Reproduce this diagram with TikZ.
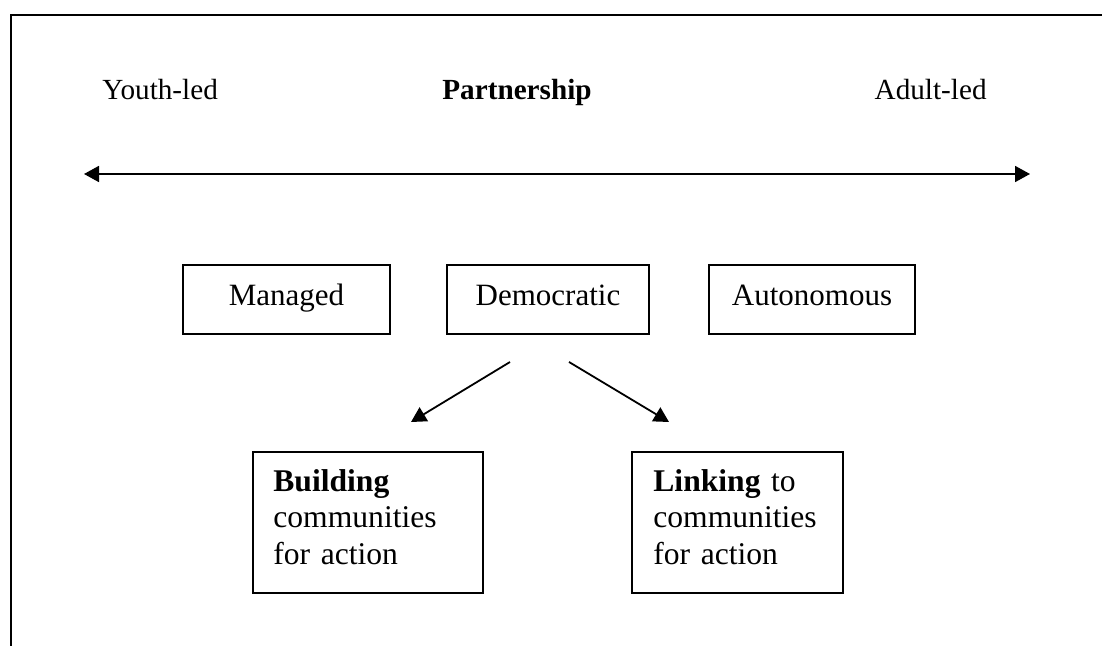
\documentclass[tikz,border=0pt]{standalone}
\usepackage{fontspec}
\setmainfont{Liberation Serif}
\usetikzlibrary{arrows.meta}
\begin{document}
\begin{tikzpicture}[x=0.5pt,y=-0.5pt,
  txt/.style={font=\fontsize{14.6}{18.25}\selectfont, inner sep=0pt},
  stagebox/.style={draw, line width=1pt, rectangle, inner sep=0pt,
    font=\fontsize{15.5}{18.25}\selectfont, text height=10pt, text depth=3.5pt,
    minimum height=34.5pt},
  outcomebox/.style={draw, line width=1pt, rectangle, inner sep=0pt},
  bodytext/.style={font=\fontsize{15.8}{18.25}\selectfont, inner sep=0pt,
    align=left, text width=110pt},
  link/.style={line width=0.9pt, -{Triangle[length=7.5pt,width=8pt]}},
  span/.style={line width=0.9pt, {Triangle[length=7.5pt,width=8pt]}-{Triangle[length=7.5pt,width=8pt]}},
]
\useasboundingbox (0,0) rectangle (1102,646);

% open frame: left and top rules
\draw[line width=1pt] (11,646) -- (11,15) -- (1102,15);

% continuum labels
\node[txt, anchor=base west] (youth) at (102,100) {Youth-led};
\node[txt, anchor=base west] (partner) at (442,100) {\textbf{Partnership}};
\node[txt, anchor=base east] (adult) at (987,100) {Adult-led};

% continuum arrow
\coordinate (spanL) at (84,174);
\coordinate (spanR) at (1030,174);
\draw[span] (spanL) -- (spanR);

% participation models
\node[stagebox, minimum width=103.5pt] (managed) at (286.5,299.5) {Managed};
\node[stagebox, minimum width=101pt] (democratic) at (548,299.5) {Democratic};
\node[stagebox, minimum width=103pt] (autonomous) at (812,299.5) {Autonomous};

% outcome boxes
\node[outcomebox, minimum width=115pt, minimum height=70.5pt] (building) at (368,522.5) {};
\node[outcomebox, minimum width=105.5pt, minimum height=70.5pt] (linking) at (737.5,522.5) {};
\node[bodytext, anchor=base west] (buildtext) at (273,491) {\textbf{Building}\\communities\\for action};
\node[bodytext, anchor=base west] (linktext) at (653,491) {\textbf{Linking} to\\communities\\for action};

% branches from the democratic model
\coordinate (forkL) at (510,362);
\coordinate (forkR) at (569,362);
\coordinate (tipL) at (411,422);
\coordinate (tipR) at (669,422);
\draw[link] (forkL) -- (tipL);
\draw[link] (forkR) -- (tipR);
\end{tikzpicture}
\end{document}
